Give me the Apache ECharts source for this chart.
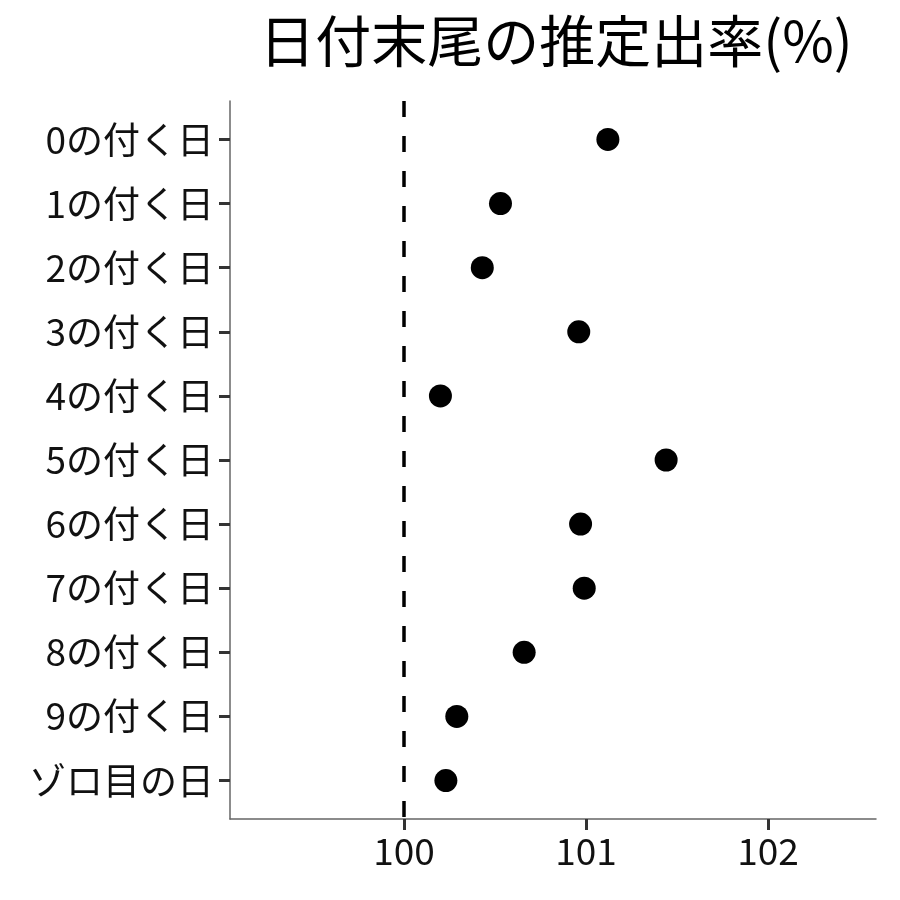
<!DOCTYPE html>
<html>
<head>
<meta charset="utf-8">
<script src="https://cdn.jsdelivr.net/npm/echarts@6/dist/echarts.min.js"></script>
<style>html,body{margin:0;padding:0;background:#fff}#c{width:900px;height:900px}</style>
</head>
<body>
<div id="c"></div>
<script>
const categories = ['0の付く日','1の付く日','2の付く日','3の付く日','4の付く日','5の付く日','6の付く日','7の付く日','8の付く日','9の付く日','ゾロ目の日'];
const rates = [101.12, 100.53, 100.43, 100.96, 100.20, 101.44, 100.97, 100.99, 100.66, 100.29, 100.23];
const xTicks = [100, 101, 102];
const refLine = 100;
const titleText = '日付末尾の推定出率(%)';

const font = 'Noto Sans CJK JP';
const chart = echarts.init(document.getElementById('c'), null, {renderer: 'canvas'});
chart.setOption({
  backgroundColor: '#fff',
  animation: false,
  title: {
    text: titleText, left: 551, top: 8, textAlign: 'center',
    textStyle: {fontFamily: font, fontSize: 56, fontWeight: 'normal', color: '#000'}
  },
  grid: {left: 230, right: 24, top: 101, bottom: 81},
  xAxis: {
    type: 'value', min: 99.044, max: 102.593,
    splitLine: {show: false},
    axisLine: {show: true, onZero: false, lineStyle: {color: '#666', width: 1.5}},
    axisTick: {show: true, customValues: xTicks, length: 11, lineStyle: {color: '#333', width: 3}},
    axisLabel: {customValues: xTicks, margin: 13, fontFamily: font, fontSize: 37, color: '#111',
      formatter: v => String(v)}
  },
  yAxis: {
    type: 'value', inverse: true, min: -0.6, max: 10.6,
    splitLine: {show: false},
    axisLine: {show: true, onZero: false, lineStyle: {color: '#666', width: 1.5}},
    axisTick: {show: true, customValues: categories.map((c, i) => i), length: 11, lineStyle: {color: '#333', width: 3}},
    axisLabel: {customValues: categories.map((c, i) => i), margin: 16, fontFamily: font, fontSize: 37, color: '#111',
      formatter: v => categories[Math.round(v)]}
  },
  series: [{
    type: 'scatter',
    symbol: 'circle', symbolSize: 23,
    itemStyle: {color: '#000', opacity: 1},
    data: rates.map((r, i) => [r, i]),
    markLine: {
      silent: true, symbol: ['none', 'none'],
      label: {show: false},
      lineStyle: {color: '#000', width: 3.5, type: [16, 19]},
      data: [{xAxis: refLine}]
    }
  }]
});
</script>
</body>
</html>
